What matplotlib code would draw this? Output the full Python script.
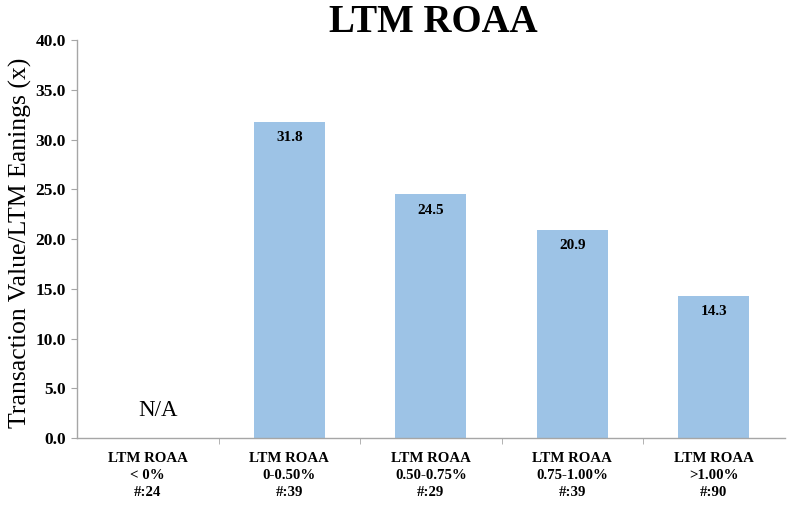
import matplotlib
matplotlib.use("Agg")
import matplotlib.pyplot as plt
from matplotlib.ticker import FixedLocator, NullFormatter

categories = ["LTM ROAA\n< 0%\n#:24", "LTM ROAA\n0-0.50%\n#:39", "LTM ROAA\n0.50-0.75%\n#:29",
              "LTM ROAA\n0.75-1.00%\n#:39", "LTM ROAA\n>1.00%\n#:90"]
values = [None, 31.8, 24.5, 20.9, 14.3]
yticks = [0, 5, 10, 15, 20, 25, 30, 35, 40]

plt.rcParams['font.family'] = ['Liberation Serif', 'DejaVu Serif']

fig = plt.figure(figsize=(7.88, 5.05), dpi=100)
ax = fig.add_axes([0.0977, 0.1327, 0.898, 0.788])

color = "#9DC3E6"
for i, v in enumerate(values):
    if v is None:
        ax.text(i + 0.07, 2.8, "N/A", ha="center", va="center", fontsize=16.5)
    else:
        ax.bar(i, v, width=0.5, color=color)
        ax.text(i, v - 1.6, f"{v:.1f}", ha="center", va="center", fontsize=11, fontweight="bold")

ax.set_xlim(-0.5, len(categories) - 0.5)
ax.set_ylim(0, 40)
ax.set_yticks(yticks)
ax.set_yticklabels([f"{t:.1f}" for t in yticks], fontsize=12.5, fontweight="bold")
ax.set_xticks(range(len(categories)))
ax.set_xticklabels(categories, fontsize=10.7, fontweight="bold", linespacing=1.4)
ax.tick_params(axis="x", length=0, pad=10)
ax.xaxis.set_minor_locator(FixedLocator([i + 0.5 for i in range(len(categories) - 1)]))
ax.xaxis.set_minor_formatter(NullFormatter())
ax.tick_params(axis="x", which="minor", length=4, color="#A6A6A6", direction="out")
ax.tick_params(axis="y", length=4, color="#A6A6A6", pad=4)

for s in ["top", "right"]:
    ax.spines[s].set_visible(False)
for s in ["left", "bottom"]:
    ax.spines[s].set_color("#A6A6A6")
    ax.spines[s].set_linewidth(1)

ax.set_ylabel("Transaction Value/LTM Eanings (x)", fontsize=18.5)
ax.yaxis.set_label_coords(-0.063, 0.49)
fig.text(0.55, 0.955, "LTM ROAA", ha="center", va="center", fontsize=28, fontweight="bold")

fig.savefig("out.png", dpi=100)
